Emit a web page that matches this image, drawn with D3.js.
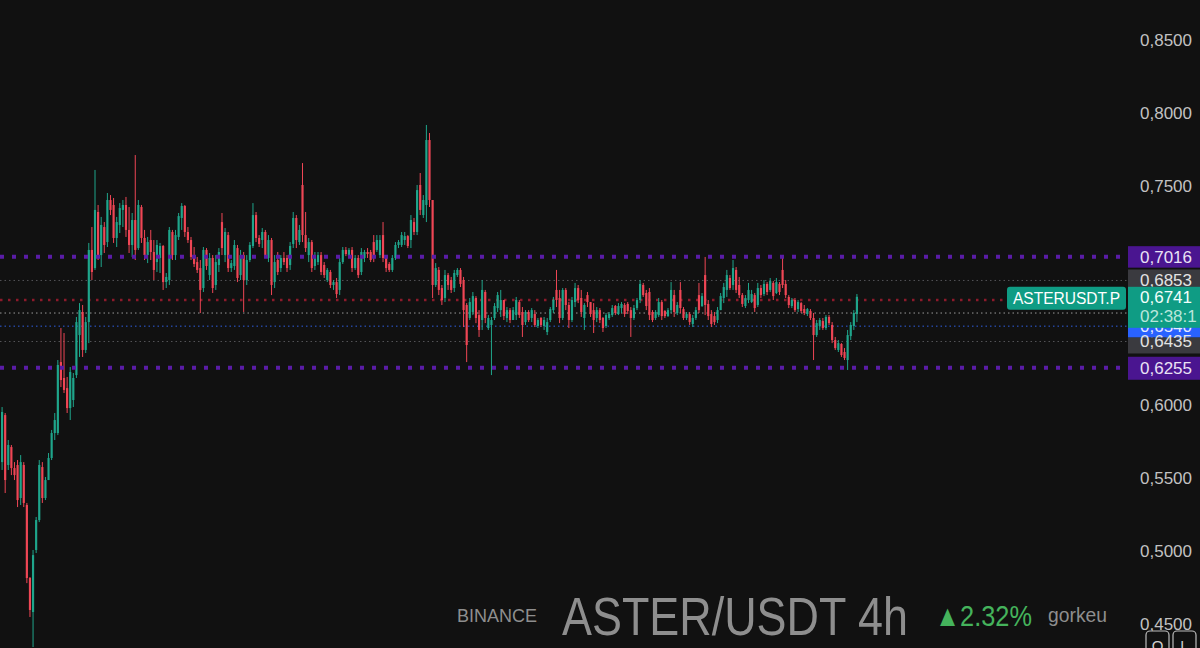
<!DOCTYPE html>
<html>
<head>
<meta charset="utf-8">
<script src="https://cdn.jsdelivr.net/npm/d3@7"></script>
<style>
  html, body { margin: 0; padding: 0; background: #111111; }
  #chart { width: 1200px; height: 648px; }
  text { font-family: "Liberation Sans", Arial, sans-serif; }
</style>
</head>
<body>
<div id="chart"></div>
<script>
// ASTER/USDT 4h candles (left to right)
const opens = [
  .5609,.5931,.5589,.5712,.5568,.5589,.5363,.5589,.5315,.4815,.4582,
  .5007,.5212,.5575,.5363,.5486,.5637,.5808,.5808,.6294,.6185,.6116,
  .5979,.6034,.6205,.6479,.6637,.6377,.6568,.7062,.6938,.7322,
  .7027,.7219,.7116,.7404,.7370,.7144,.7233,.7336,.7370,.7199,.7096,
  .7267,.7075,.7356,.7144,.7027,.7130,.7048,.6979,.7007,.7089,.6842,
  .6856,.7185,.7027,.7151,.7281,.7363,.7185,.7130,.7027,.6979,
  .6938,.6801,.7062,.6890,.7007,
  .6822,.6959,.7253,.7027,.7164,.6938,.6952,.7075,.6890,.7027,.6856,
  .6993,.7089,.7301,.7144,.7130,.7185,.7007,.7130,.6842,.6993,.6938,.7007,
  .7007,.6959,.7103,.7281,.7116,.7507,.7164,.7027,.7116,.6952,
  .6979,.7027,.6959,.6856,.6911,.6822,.6842,.6788,.6979,.7062,.7020,
  .7062,.6938,.7007,.6911,.7007,.7048,.7048,.7116,.7062,.7027,.7164,
  .7007,.6966,.6925,.7007,.7096,.7096,.7130,.7157,.7130,.7253,.7185,
  .7507,.7301,.7370,.7815,
  .7404,.6822,.6925,.6801,.6733,.6890,.6856,.6801,.6890,.6925,
  .6856,.6685,.6596,.6637,.6733,.6616,.6582,.6774,.6527,.6548,
  .6596,.6664,.6650,.6719,.6596,.6650,.6582,.6616,.6705,.6637,
  .6568,.6637,.6596,.6623,.6541,.6596,.6541,.6500,.6582,.6650,
  .6788,.6733,.6596,.6788,.6685,.6582,.6705,.6801,.6733,.6596,
  .6753,.6705,.6650,.6596,.6650,.6596,.6541,.6596,.6616,.6678,
  .6623,.6664,.6685,.6692,.6650,.6596,.6664,.6719,.6822,.6767,
  .6774,.6637,.6596,.6616,.6705,.6644,.6609,.6650,.6753,.6630,
  .6788,.6657,.6596,.6623,.6555,.6596,.6753,.6678,.6890,.6692,
  .6623,.6609,.6582,.6650,.6733,.6788,.6870,.6822,.6925,.6822,
  .6753,.6678,.6719,.6705,.6753,.6685,.6801,.6760,.6829,.6788,
  .6836,.6767,.6829,.6925,.6829,.6740,.6678,.6719,.6657,.6698,
  .6657,.6623,.6644,.6596,.6479,.6541,.6575,.6527,.6603,.6548,
  .6445,.6377,.6418,.6363,.6308,.6472,.6541,.6623
];

const highs = [
  .5986,.5945,.5760,.5726,.5609,.5623,.5657,.5609,.5329,.4822,.5007,
  .5233,.5623,.5609,.5507,.5671,.5829,.5945,.6308,.6527,.6493,.6192,
  .6260,.6219,.6603,.6698,.6685,.6603,.7110,.7219,.7610,.7370,
  .7288,.7253,.7452,.7438,.7418,.7288,.7383,.7404,.7425,.7356,.7315,
  .7712,.7404,.7370,.7199,.7151,.7199,.7130,.7130,.7110,.7096,.6904,
  .7219,.7199,.7199,.7315,.7383,.7370,.7219,.7151,.7082,.7014,
  .6993,.7082,.7075,.7041,.7027,
  .7027,.7075,.7315,.7212,.7185,.6993,.7130,.7096,.7062,.7048,.7027,
  .7116,.7383,.7322,.7164,.7212,.7199,.7164,.7144,.7027,.7048,.7027,.7048,
  .7027,.7116,.7322,.7301,.7233,.7657,.7322,.7144,.7130,.7048,
  .7048,.7048,.6979,.6938,.6925,.6856,.6870,.7007,.7082,.7082,.7075,
  .7082,.7027,.7027,.7075,.7062,.7075,.7062,.7164,.7164,.7164,.7253,
  .7027,.6979,.7027,.7116,.7130,.7185,.7185,.7164,.7301,.7281,.7507,
  .7589,.7438,.7918,.7863,
  .7404,.6972,.6945,.6822,.6925,.6904,.6877,.6925,.6938,.6938,
  .6877,.6698,.6733,.6774,.6746,.6650,.6856,.6788,.6616,.6603,
  .6698,.6774,.6788,.6719,.6671,.6664,.6671,.6740,.6719,.6671,
  .6650,.6650,.6664,.6650,.6596,.6603,.6603,.6596,.6671,.6740,
  .6925,.6788,.6801,.6801,.6705,.6740,.6836,.6822,.6788,.6698,
  .6774,.6705,.6698,.6671,.6664,.6603,.6630,.6637,.6685,.6685,
  .6698,.6705,.6698,.6705,.6671,.6685,.6733,.6856,.6836,.6788,
  .6801,.6650,.6650,.6733,.6719,.6650,.6664,.6842,.6788,.6705,
  .6842,.6671,.6637,.6637,.6616,.6671,.6836,.6767,.7014,.6719,
  .6650,.6637,.6671,.6767,.6836,.6925,.6890,.6993,.6945,.6877,
  .6767,.6753,.6836,.6788,.6767,.6836,.6822,.6856,.6842,.6870,
  .6849,.6870,.6842,.7007,.6856,.6753,.6733,.6733,.6719,.6705,
  .6685,.6664,.6657,.6630,.6582,.6596,.6596,.6616,.6616,.6568,
  .6466,.6445,.6424,.6390,.6514,.6568,.6650,.6760
];

const lows = [
  .5555,.5397,.5555,.5520,.5486,.5301,.5315,.5301,.4780,.4548,.4342,
  .4986,.5198,.5329,.5349,.5486,.5623,.5760,.5794,.6123,.6082,.5945,
  .5897,.5986,.6185,.6329,.6329,.6356,.6424,.6856,.6925,.6993,
  .6945,.7041,.7082,.7301,.7110,.7082,.7178,.7219,.7151,.7041,.7014,
  .6993,.7062,.7110,.6993,.6972,.6993,.6856,.6911,.6904,.6788,.6801,
  .6822,.6993,.6993,.7130,.7199,.7151,.7110,.6993,.6945,.6904,
  .6630,.6774,.6925,.6856,.6767,
  .6788,.6911,.7027,.6979,.6911,.6911,.6925,.6842,.6856,.6637,.6822,
  .6979,.7075,.7116,.7082,.7075,.7007,.6979,.6753,.6801,.6890,.6911,.6959,
  .6911,.6925,.7075,.7075,.7096,.7116,.7048,.6979,.6911,.6925,
  .6959,.6890,.6870,.6842,.6801,.6788,.6733,.6753,.6966,.7020,.7007,
  .6911,.6925,.6870,.6890,.6979,.7007,.6979,.6979,.7048,.7007,.6979,
  .6911,.6911,.6911,.6993,.7075,.7082,.7096,.7075,.7075,.7164,.7164,
  .7301,.7281,.7253,.7356,
  .6733,.6808,.6753,.6685,.6705,.6788,.6767,.6774,.6877,.6808,
  .6534,.6294,.6582,.6616,.6561,.6466,.6514,.6561,.6514,.6205,
  .6582,.6637,.6603,.6582,.6568,.6561,.6582,.6582,.6596,.6466,
  .6548,.6568,.6568,.6534,.6527,.6534,.6514,.6479,.6568,.6630,
  .6671,.6561,.6582,.6650,.6527,.6568,.6671,.6698,.6603,.6514,
  .6671,.6603,.6493,.6568,.6561,.6500,.6527,.6582,.6603,.6616,
  .6616,.6630,.6603,.6623,.6466,.6582,.6650,.6698,.6740,.6650,
  .6582,.6568,.6582,.6603,.6582,.6596,.6603,.6630,.6603,.6616,
  .6630,.6582,.6582,.6548,.6534,.6582,.6630,.6671,.6616,.6582,
  .6534,.6548,.6561,.6650,.6698,.6740,.6788,.6788,.6767,.6733,
  .6671,.6664,.6698,.6698,.6637,.6671,.6733,.6746,.6753,.6774,
  .6719,.6760,.6753,.6801,.6733,.6664,.6664,.6637,.6637,.6630,
  .6616,.6609,.6582,.6308,.6466,.6514,.6514,.6514,.6548,.6424,
  .6377,.6363,.6329,.6308,.6240,.6445,.6514,.6568
];

const closes = [
  .5952,.5486,.5726,.5568,.5520,.5349,.5609,.5329,.4815,.4596,.4972,
  .5212,.5589,.5363,.5486,.5637,.5808,.5897,.6274,.6171,.6103,.5979,
  .6226,.6185,.6568,.6650,.6377,.6568,.7062,.6911,.7336,.7027,
  .7233,.7096,.7404,.7336,.7144,.7253,.7349,.7370,.7199,.7096,.7267,
  .7062,.7370,.7144,.7027,.7116,.7048,.6925,.7096,.7089,.6842,.6877,
  .7199,.7027,.7164,.7294,.7363,.7185,.7130,.7014,.6966,.6925,
  .6788,.7062,.6952,.7007,.6801,
  .6979,.7048,.7075,.7185,.6938,.6972,.7096,.6870,.7027,.6856,.6993,
  .7096,.7301,.7144,.7103,.7185,.7027,.7130,.6822,.6979,.6911,.7007,.6979,
  .6938,.7089,.7281,.7130,.7199,.7164,.7075,.7116,.6938,.7027,
  .7027,.6911,.6890,.6925,.6822,.6842,.6760,.6979,.7062,.7034,.7062,
  .6938,.7007,.6890,.7048,.7048,.7034,.6993,.7007,.7130,.7130,.7007,
  .6938,.6925,.7007,.7096,.7116,.7164,.7157,.7089,.7267,.7185,.7472,
  .7336,.7404,.7815,.7404,
  .6822,.6938,.6788,.6719,.6890,.6822,.6788,.6904,.6925,.6829,
  .6650,.6411,.6705,.6746,.6596,.6514,.6788,.6596,.6596,.6582,
  .6678,.6753,.6719,.6609,.6650,.6582,.6650,.6719,.6616,.6548,
  .6637,.6582,.6650,.6548,.6582,.6548,.6582,.6568,.6657,.6719,
  .6719,.6596,.6788,.6685,.6582,.6719,.6801,.6719,.6637,.6685,
  .6705,.6623,.6582,.6650,.6582,.6527,.6616,.6623,.6664,.6630,
  .6678,.6692,.6623,.6644,.6596,.6664,.6719,.6829,.6753,.6678,
  .6616,.6582,.6637,.6705,.6609,.6609,.6650,.6788,.6637,.6685,
  .6664,.6596,.6623,.6568,.6596,.6650,.6650,.6746,.6685,.6609,
  .6555,.6568,.6650,.6746,.6808,.6890,.6801,.6938,.6788,.6753,
  .6692,.6733,.6788,.6760,.6664,.6801,.6753,.6829,.6774,.6849,
  .6746,.6842,.6774,.6822,.6753,.6685,.6719,.6650,.6705,.6644,
  .6630,.6657,.6596,.6479,.6561,.6582,.6527,.6603,.6561,.6445,
  .6390,.6424,.6342,.6322,.6479,.6548,.6630,.6741
];

const priceTicks = [0.85, 0.80, 0.75, 0.70, 0.65, 0.60, 0.55, 0.50, 0.45];

// horizontal levels drawn on the chart
const rangeHigh = 0.7016;
const rangeLow = 0.6255;
const upperLevel = 0.6853;
const redLevel = 0.6720;
const midLevel = 0.6630;
const blueLevel = 0.6540;
const lowerLevel = 0.6435;

const symbolName = 'ASTERUSDT.P';
const countdown = '02:38:1';
const exchange = 'BINANCE';
const pairTitle = 'ASTER/USDT 4h';
const change = '\u25B22.32%';
const author = 'gorkeu';

const W = 1200;
const H = 648;
const plotRight = 1127;
const UP = '#1fa58b';
const DOWN = '#ef4655';

const fmt = v => d3.format('.4f')(v).replace('.', ',');

class CandleChart {
  constructor (el) {
    this.el = el;
    this.data = closes.map((c, i) => ({ i, o: opens[i], h: highs[i], l: lows[i], c }));
  }

  createChart () {
    this._createSvg();
    this._prepareScales();
    this._drawLevels();
    this._drawCandles();
    this._drawRangeLevels();
    this._drawAxis();
    this._drawPriceLabels();
    this._drawSymbolLabel();
    this._drawWatermark();
    this._drawCornerButtons();
    return this;
  }

  _createSvg () {
    this.svg = d3.select(this.el).append('svg')
      .attr('width', W)
      .attr('height', H);
    this.svg.append('rect')
      .attr('width', W)
      .attr('height', H)
      .attr('fill', '#111111');
  }

  _prepareScales () {
    this.x = d3.scaleBand()
      .domain(d3.range(this.data.length))
      .range([1, 858])
      .paddingInner(0.3);
    this.y = d3.scaleLinear()
      .domain([0.45, 0.85])
      .range([624, 40]);
  }

  _hLine (value, color, width, dash) {
    this.svg.append('line')
      .attr('x1', 0)
      .attr('x2', plotRight)
      .attr('y1', this.y(value))
      .attr('y2', this.y(value))
      .attr('stroke', color)
      .attr('stroke-width', width)
      .attr('stroke-dasharray', dash);
  }

  _drawLevels () {
    this._hLine(upperLevel, '#545458', 1, '1.5 3');
    this._hLine(redLevel, '#8c1a2b', 2.5, '2.5 5.5');
    this._hLine(midLevel, '#9a9a9a', 1, '1.5 3');
    this._hLine(blueLevel, '#2f5fe0', 1, '1.5 3');
    this._hLine(lowerLevel, '#545458', 1, '1.5 3');
  }

  _drawRangeLevels () {
    this._hLine(rangeHigh, '#5a1ca6', 4, '4 8');
    this._hLine(rangeLow, '#5a1ca6', 4, '4 8');
  }

  _drawCandles () {
    const bw = this.x.bandwidth();
    const g = this.svg.append('g').attr('class', 'candles');
    const candle = g.selectAll('g')
      .data(this.data)
      .join('g')
      .attr('fill', d => d.c >= d.o ? UP : DOWN)
      .attr('stroke', d => d.c >= d.o ? UP : DOWN);

    candle.append('line')
      .attr('x1', d => this.x(d.i) + bw / 2)
      .attr('x2', d => this.x(d.i) + bw / 2)
      .attr('y1', d => this.y(d.h))
      .attr('y2', d => this.y(d.l))
      .attr('stroke-width', 1);

    candle.append('rect')
      .attr('x', d => this.x(d.i))
      .attr('y', d => this.y(Math.max(d.o, d.c)))
      .attr('width', bw)
      .attr('height', d => Math.max(1, Math.abs(this.y(d.o) - this.y(d.c))))
      .attr('stroke', 'none');
  }

  _drawAxis () {
    const axis = this.svg.append('g')
      .attr('transform', `translate(${plotRight}, 0)`)
      .call(d3.axisRight(this.y).tickValues(priceTicks).tickSize(0).tickPadding(13).tickFormat(fmt));
    axis.select('.domain').remove();
    axis.selectAll('text')
      .attr('font-family', '"Liberation Sans", Arial, sans-serif')
      .attr('font-size', 17)
      .attr('fill', '#c2c2c2');
  }

  _box (value, top, bottom, fill, label, textColor) {
    const y = this.y(value);
    this.svg.append('rect')
      .attr('x', plotRight + 1)
      .attr('y', y + top)
      .attr('width', W - plotRight)
      .attr('height', bottom - top)
      .attr('fill', fill);
    this.svg.append('text')
      .attr('x', 1140)
      .attr('y', y + 6)
      .attr('font-size', 17)
      .attr('fill', textColor)
      .text(label);
  }

  _drawPriceLabels () {
    const last = this.data[this.data.length - 1].c;
    this._box(blueLevel, -10, 11.5, '#2962ff', fmt(blueLevel), '#e8ecff');
    this._box(lowerLevel, -4, 12, '#3a3a3f', fmt(lowerLevel), '#e2e2e2');
    this._box(upperLevel, -11, 10, '#3a3a3f', fmt(upperLevel), '#e2e2e2');

    const y = this.y(last);
    this.svg.append('rect')
      .attr('x', plotRight + 1)
      .attr('y', y - 10)
      .attr('width', W - plotRight)
      .attr('height', 41)
      .attr('fill', '#0f9c84');
    this.svg.append('text')
      .attr('x', 1140)
      .attr('y', y + 6)
      .attr('font-size', 17)
      .attr('fill', '#f2fffb')
      .text(fmt(last));
    this.svg.append('text')
      .attr('x', 1140)
      .attr('y', y + 25)
      .attr('font-size', 17)
      .attr('fill', '#b9e6db')
      .text(countdown);

    this._box(rangeHigh, -10.5, 11, '#4a1590', fmt(rangeHigh), '#e9e2f5');
    this._box(rangeLow, -11, 12, '#4a1590', fmt(rangeLow), '#e9e2f5');
  }

  _drawSymbolLabel () {
    const y = this.y(this.data[this.data.length - 1].c);
    this.svg.append('rect')
      .attr('x', 1007)
      .attr('y', y - 10)
      .attr('width', 119)
      .attr('height', 23)
      .attr('rx', 3)
      .attr('fill', '#0f9c84');
    this.svg.append('text')
      .attr('x', 1013)
      .attr('y', y + 7)
      .attr('font-size', 16)
      .attr('textLength', 107)
      .attr('lengthAdjust', 'spacingAndGlyphs')
      .attr('fill', '#ffffff')
      .text(symbolName);
  }

  _drawWatermark () {
    const g = this.svg.append('g');
    g.append('text')
      .attr('x', 457).attr('y', 622)
      .attr('font-size', 19)
      .attr('textLength', 80).attr('lengthAdjust', 'spacingAndGlyphs')
      .attr('fill', '#8e8e8e')
      .text(exchange);
    g.append('text')
      .attr('x', 562).attr('y', 635)
      .attr('font-size', 53)
      .attr('textLength', 346).attr('lengthAdjust', 'spacingAndGlyphs')
      .attr('fill', '#8e8e8e')
      .text(pairTitle);
    g.append('text')
      .attr('x', 935).attr('y', 626)
      .attr('font-size', 30)
      .attr('textLength', 97).attr('lengthAdjust', 'spacingAndGlyphs')
      .attr('fill', '#45b35c')
      .text(change);
    g.append('text')
      .attr('x', 1048).attr('y', 622)
      .attr('font-size', 20)
      .attr('textLength', 59).attr('lengthAdjust', 'spacingAndGlyphs')
      .attr('fill', '#8e8e8e')
      .text(author);
  }

  _drawCornerButtons () {
    const g = this.svg.append('g');
    [[1146, 'Q'], [1173, 'L']].forEach(([bx, ch]) => {
      g.append('rect')
        .attr('x', bx).attr('y', 631)
        .attr('width', 23).attr('height', 24)
        .attr('rx', 4)
        .attr('fill', '#111111')
        .attr('stroke', '#bdbdbd')
        .attr('stroke-width', 1.2);
      g.append('text')
        .attr('x', bx + 11.5).attr('y', 651)
        .attr('text-anchor', 'middle')
        .attr('font-size', 15)
        .attr('fill', '#d0d0d0')
        .text(ch);
    });
  }
}

new CandleChart(document.getElementById('chart')).createChart();
</script>
</body>
</html>
